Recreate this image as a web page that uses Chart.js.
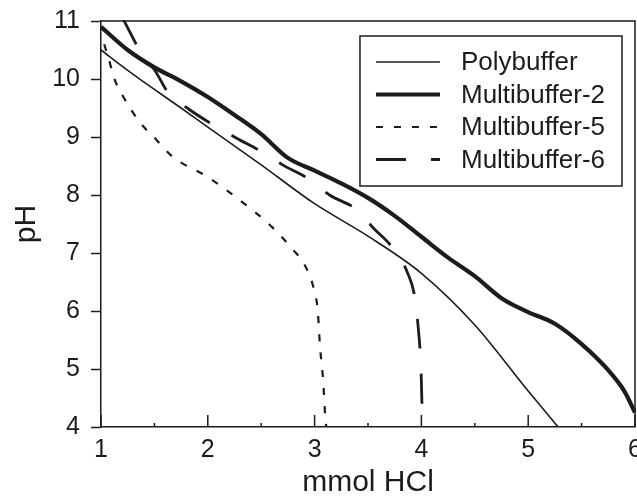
<!DOCTYPE html>
<html>
<head>
<meta charset="utf-8">
<script src="https://cdn.jsdelivr.net/npm/chart.js@4"></script>
<style>
  html, body { margin: 0; padding: 0; background: #fff; }
</style>
</head>
<body>
<canvas id="myChart" width="637" height="498"></canvas>
<script>
// Titration curves: x = mmol HCl added, y = pH
const polyX = [1, 1.25, 1.5, 1.75, 2, 2.5, 3, 3.5, 4, 4.5, 5, 5.28];
const polyY = [10.5, 10.15, 9.82, 9.5, 9.17, 8.52, 7.85, 7.29, 6.65, 5.76, 4.62, 4.0];

const mb2X = [1, 1.25, 1.5, 1.75, 2, 2.25, 2.5, 2.75, 3, 3.25, 3.5, 3.75, 4, 4.25, 4.5, 4.75, 5, 5.25, 5.5, 5.75, 5.9, 6];
const mb2Y = [10.9, 10.5, 10.2, 9.96, 9.69, 9.38, 9.05, 8.64, 8.42, 8.2, 7.95, 7.64, 7.28, 6.92, 6.6, 6.22, 5.98, 5.78, 5.43, 4.98, 4.62, 4.25];

const mb5X = [1.03, 1.07, 1.13, 1.21, 1.37, 1.52, 1.67, 2, 2.3, 2.6, 2.8, 2.9, 3.0, 3.03, 3.05, 3.08, 3.1, 3.11];
const mb5Y = [10.6, 10.36, 9.98, 9.69, 9.24, 8.95, 8.66, 8.31, 7.91, 7.45, 7.05, 6.82, 6.33, 6.0, 5.4, 4.8, 4.17, 4.0];

const mb6X = [1.2, 1.22, 1.35, 1.42, 1.5, 1.63, 1.83, 2.05, 2.27, 2.51, 2.7, 2.96, 3.14, 3.4, 3.55, 3.73, 3.87, 3.94, 3.97, 3.99, 4.0, 4.01];
const mb6Y = [11.06, 10.99, 10.53, 10.32, 10.16, 9.76, 9.47, 9.21, 8.98, 8.74, 8.52, 8.26, 8.0, 7.74, 7.43, 7.09, 6.66, 6.22, 5.72, 5.24, 4.78, 4.0];

const seriesNames = ['Polybuffer', 'Multibuffer-2', 'Multibuffer-5', 'Multibuffer-6'];

// axis ticks
const xMajorTicks = [1, 2, 3, 4, 5, 6];
const xMinorTicks = [1.5, 2.5, 3.5, 4.5, 5.5];
const yTicks = [4, 5, 6, 7, 8, 9, 10, 11];

const ink = '#1c1c1c';
const fontFamily = "'Liberation Sans', Arial, Helvetica, sans-serif";

function toPoints(xs, ys) {
  return xs.map((x, i) => ({ x: x, y: ys[i] }));
}

// top/right frame, inward x ticks and the boxed legend
const framePlugin = {
  id: 'framePlugin',
  afterDraw(chart) {
    const { ctx, chartArea: a, scales } = chart;
    const xs = scales.x;
    ctx.save();
    ctx.strokeStyle = ink;
    ctx.lineWidth = 1.5;
    ctx.beginPath();
    ctx.moveTo(a.left, a.top);
    ctx.lineTo(a.right, a.top);
    ctx.lineTo(a.right, a.bottom);
    ctx.stroke();

    // x ticks point up into the plot
    ctx.beginPath();
    xMajorTicks.forEach(v => {
      const px = xs.getPixelForValue(v);
      ctx.moveTo(px, a.bottom);
      ctx.lineTo(px, a.bottom - 12);
    });
    xMinorTicks.forEach(v => {
      const px = xs.getPixelForValue(v);
      ctx.moveTo(px, a.bottom);
      ctx.lineTo(px, a.bottom - 4);
    });
    ctx.stroke();

    // legend
    ctx.font = '26px ' + fontFamily;
    const sets = chart.data.datasets;
    let maxText = 0;
    sets.forEach(ds => { maxText = Math.max(maxText, ctx.measureText(ds.label).width); });
    const rowH = 32.5;
    const boxW = 101 + maxText + 17;
    const boxH = rowH * sets.length + 20;
    const boxR = a.right - 13;
    const boxL = boxR - boxW;
    const boxT = a.top + 15;
    ctx.lineWidth = 1.5;
    ctx.setLineDash([]);
    ctx.strokeRect(boxL, boxT, boxW, boxH);

    ctx.textBaseline = 'middle';
    ctx.textAlign = 'left';
    ctx.fillStyle = ink;
    sets.forEach((ds, i) => {
      const cy = boxT + 26 + i * rowH;
      ctx.save();
      ctx.lineWidth = ds.borderWidth;
      ctx.setLineDash(ds.borderDash || []);
      ctx.beginPath();
      ctx.moveTo(boxL + 16, cy);
      ctx.lineTo(boxL + 80, cy);
      ctx.stroke();
      ctx.restore();
      ctx.fillText(ds.label, boxL + 101, cy + 1);
    });
    ctx.restore();
  }
};

const myChart = document.getElementById('myChart');

new Chart(myChart, {
  type: 'line',
  data: {
    datasets: [
      { label: seriesNames[0], data: toPoints(polyX, polyY), borderWidth: 1.6, borderDash: [] },
      { label: seriesNames[1], data: toPoints(mb2X, mb2Y), borderWidth: 4.2, borderDash: [] },
      { label: seriesNames[2], data: toPoints(mb5X, mb5Y), borderWidth: 2.2, borderDash: [7, 11] },
      { label: seriesNames[3], data: toPoints(mb6X, mb6Y), borderWidth: 2.8, borderDash: [30, 25] }
    ].map(ds => Object.assign(ds, {
      borderColor: ink,
      backgroundColor: ink,
      pointRadius: 0,
      fill: false,
      cubicInterpolationMode: 'monotone',
      clip: 1
    }))
  },
  options: {
    responsive: false,
    animation: false,
    layout: { padding: { left: 0, right: 2, top: 21, bottom: 0 } },
    plugins: {
      legend: { display: false },
      tooltip: { enabled: false }
    },
    scales: {
      x: {
        type: 'linear',
        min: 1,
        max: 6,
        afterBuildTicks: s => { s.ticks = xMajorTicks.map(v => ({ value: v })); },
        afterFit: s => { s.height = 71; s.paddingLeft = 0; s.paddingRight = 0; },
        grid: { display: false },
        border: { display: true, color: ink, width: 1.5 },
        ticks: { color: ink, padding: 0, maxRotation: 0, font: { size: 25, family: fontFamily } },
        title: {
          display: true,
          text: 'mmol HCl',
          color: ink,
          padding: { top: 0, bottom: 0 },
          font: { size: 30, family: fontFamily, lineHeight: 1 }
        }
      },
      y: {
        type: 'linear',
        min: 4,
        max: 11,
        afterBuildTicks: s => { s.ticks = yTicks.map(v => ({ value: v })); },
        afterFit: s => { s.width = 101; s.paddingTop = 0; s.paddingBottom = 0; },
        grid: { display: true, drawOnChartArea: false, drawTicks: true, tickLength: 10, tickWidth: 1.5, tickColor: ink },
        border: { display: true, color: ink, width: 1.5 },
        ticks: { color: ink, padding: 11, font: { size: 25, family: fontFamily } },
        title: {
          display: true,
          text: 'pH',
          color: ink,
          padding: { top: 12, bottom: 0 },
          font: { size: 30, family: fontFamily, lineHeight: 1 }
        }
      }
    }
  },
  plugins: [framePlugin]
});
</script>
</body>
</html>
